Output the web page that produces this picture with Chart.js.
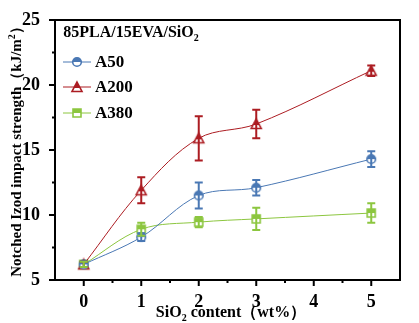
<!DOCTYPE html>
<html>
<head>
<meta charset="utf-8">
<script src="https://cdn.jsdelivr.net/npm/chart.js@4/dist/chart.umd.min.js"></script>
<style>
  html, body { margin: 0; background: #fff; }
  #wrap { width: 419px; height: 323px; }
</style>
</head>
<body>
<div id="wrap"><canvas id="chart"></canvas></div>
<script>
// SiO2 loading (wt%) and notched Izod impact strength (kJ/m2)
const silica = [0, 1, 2, 3, 5];
const a50 = [6.2, 8.3, 11.5, 12.1, 14.3];
const a50Err = [0.2, 0.3, 1.0, 0.6, 0.6];
const a200 = [6.2, 11.9, 15.9, 17.0, 21.1];
const a200Err = [0.2, 1.0, 1.7, 1.1, 0.4];
const a380 = [6.2, 8.9, 9.45, 9.7, 10.15];
const a380Err = [0.2, 0.5, 0.4, 0.85, 0.75];
const xTicks = [0, 1, 2, 3, 4, 5];
const yTicks = [5, 10, 15, 20, 25];

const SERIF = "'Liberation Serif', 'Times New Roman', serif";
const BLUE = "#4a78b4";
const RED = "#ac1c22";
const GREEN = "#8cc63f";

// half filled marker: top half in colour, bottom half white
function marker(shape, color) {
  const c = document.createElement("canvas");
  c.width = c.height = 14;
  const g = c.getContext("2d");
  const path = () => {
    g.beginPath();
    if (shape === "circle") g.arc(7, 7, 4.3, 0, Math.PI * 2);
    else if (shape === "triangle") { g.moveTo(7, 2); g.lineTo(12, 11.5); g.lineTo(2, 11.5); g.closePath(); }
    else g.rect(3, 3, 8, 8);
  };
  path();
  g.fillStyle = "#fff";
  g.fill();
  g.save();
  g.beginPath();
  g.rect(0, 0, 14, shape === "triangle" ? 8 : 7);
  g.clip();
  path();
  g.fillStyle = color;
  g.fill();
  g.restore();
  path();
  g.lineWidth = 1.6;
  g.strokeStyle = color;
  g.stroke();
  return c;
}

function series(label, values, errs, color, shape) {
  return {
    label,
    data: silica.map((x, i) => ({ x, y: values[i] })),
    errs,
    borderColor: color,
    backgroundColor: color,
    borderWidth: 1,
    tension: 0.35,
    pointStyle: marker(shape, color),
    pointRadius: 6,
  };
}

const errorBars = {
  id: "errorBars",
  afterDatasetsDraw(chart) {
    const { ctx, scales: { x, y } } = chart;
    chart.data.datasets.forEach(ds => {
      ctx.save();
      ctx.strokeStyle = ds.borderColor;
      ctx.lineWidth = 2;
      ds.data.forEach((p, i) => {
        const px = x.getPixelForValue(p.x);
        const top = y.getPixelForValue(p.y + ds.errs[i]);
        const bot = y.getPixelForValue(p.y - ds.errs[i]);
        ctx.beginPath();
        ctx.moveTo(px, top); ctx.lineTo(px, bot);
        ctx.moveTo(px - 4, top); ctx.lineTo(px + 4, top);
        ctx.moveTo(px - 4, bot); ctx.lineTo(px + 4, bot);
        ctx.stroke();
      });
      ctx.restore();
    });
  },
};

// draws text pieces; each piece [text, "sup" | "sub" | undefined]
function richText(ctx, pieces, x, y, size) {
  const small = `bold ${Math.round(size * 0.65)}px ${SERIF}`;
  const big = `bold ${size}px ${SERIF}`;
  let w = 0;
  pieces.forEach(([t, m]) => { ctx.font = m ? small : big; w += ctx.measureText(t).width; });
  let cx = x - w / 2;
  pieces.forEach(([t, m]) => {
    ctx.font = m ? small : big;
    const dy = m === "sup" ? -size * 0.38 : m === "sub" ? size * 0.22 : 0;
    ctx.fillText(t, cx, y + dy);
    cx += ctx.measureText(t).width;
  });
}

const frame = {
  id: "frame",
  afterDraw(chart) {
    const { ctx, chartArea: a, scales: { x, y } } = chart;
    ctx.save();
    ctx.strokeStyle = "#000";
    ctx.lineWidth = 2;
    ctx.strokeRect(a.left, a.top, a.right - a.left, a.bottom - a.top);
    // outward ticks, major and minor
    ctx.beginPath();
    for (let v = 0; v <= 5; v += 0.5) {
      const px = x.getPixelForValue(v);
      ctx.moveTo(px, a.bottom); ctx.lineTo(px, a.bottom + (v % 1 ? 3 : 6));
    }
    for (let v = 5; v <= 25; v += 2.5) {
      const py = y.getPixelForValue(v);
      ctx.moveTo(a.left, py); ctx.lineTo(a.left - (v % 5 ? 3 : 6), py);
    }
    ctx.stroke();

    ctx.fillStyle = "#000";
    ctx.textBaseline = "alphabetic";
    ctx.textAlign = "left";
    // axis titles
    richText(ctx, [["SiO"], ["2", "sub"], [" content\uFF08wt%\uFF09"]], 231, 317, 16);
    ctx.save();
    ctx.translate(21, 148);
    ctx.rotate(-Math.PI / 2);
    richText(ctx, [["Notched Izod impact strength\uFF08kJ/m"], ["2", "sup"], ["\uFF09"]], 0, 0, 15);
    ctx.restore();

    // legend inside the plot
    richText(ctx, [["85PLA/15EVA/SiO"], ["2", "sub"]], 131, 37, 16);
    const rows = [62, 87, 113];
    chart.data.datasets.forEach((ds, i) => {
      const ly = rows[i];
      ctx.strokeStyle = ds.borderColor;
      ctx.lineWidth = 1;
      ctx.beginPath();
      ctx.moveTo(63, ly); ctx.lineTo(91, ly);
      ctx.stroke();
      ctx.drawImage(ds.pointStyle, 70, ly - 7);
      ctx.font = `bold 17px ${SERIF}`;
      ctx.fillText(ds.label, 95, ly + 5);
    });
    ctx.restore();
  },
};

new Chart(document.getElementById("chart"), {
  type: "line",
  data: {
    datasets: [
      series("A50", a50, a50Err, BLUE, "circle"),
      series("A200", a200, a200Err, RED, "triangle"),
      series("A380", a380, a380Err, GREEN, "square"),
    ],
  },
  options: {
    responsive: true,
    maintainAspectRatio: false,
    animation: false,
    layout: { padding: { top: 20, right: 19, left: 0, bottom: 0 } },
    plugins: { legend: { display: false }, tooltip: { enabled: false } },
    scales: {
      x: {
        type: "linear",
        min: -0.5,
        max: 5.5,
        afterBuildTicks: s => { s.ticks = xTicks.map(value => ({ value })); },
        afterFit: s => { s.height = 43; },
        grid: { display: false },
        border: { display: false },
        ticks: { color: "#000", padding: 4, font: { family: SERIF, size: 18, weight: "bold" } },
      },
      y: {
        min: 5,
        max: 25,
        afterBuildTicks: s => { s.ticks = yTicks.map(value => ({ value })); },
        afterFit: s => { s.width = 55; },
        grid: { display: false },
        border: { display: false },
        ticks: { color: "#000", padding: 7, font: { family: SERIF, size: 18, weight: "bold" } },
      },
    },
  },
  plugins: [errorBars, frame],
});
</script>
</body>
</html>
